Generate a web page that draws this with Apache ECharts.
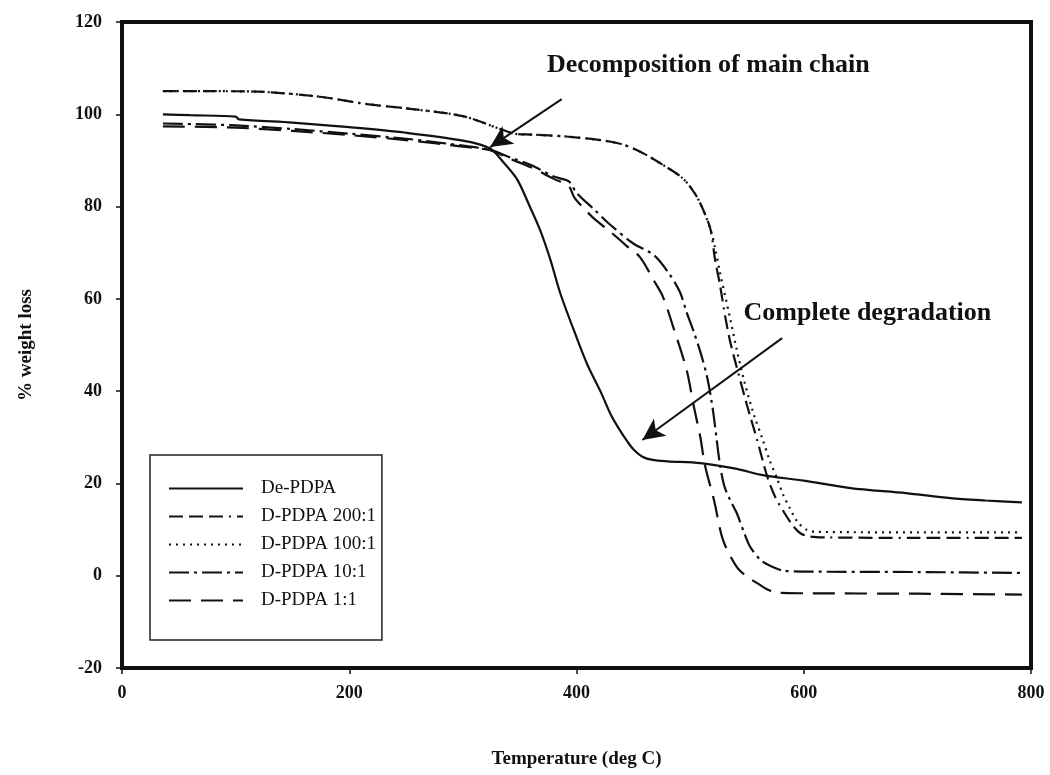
<!DOCTYPE html>
<html>
<head>
<meta charset="utf-8">
<script src="https://cdn.jsdelivr.net/npm/echarts@6/dist/echarts.min.js"></script>
<style>
  html, body { margin: 0; padding: 0; background: #fff; }
  #chart { width: 1050px; height: 775px; }
</style>
</head>
<body>
<div id="chart"></div>
<script>
// TGA curves: temperature (deg C) vs % weight loss
const dePdpaT = [36, 60, 100, 103, 150, 200, 250, 300, 324, 336, 348, 358, 368, 377, 386, 400, 410, 421, 430, 438, 445, 450, 458, 467, 480, 509, 540, 564, 600, 641, 690, 729, 760, 792];
const dePdpaW = [100, 99.8, 99.5, 98.9, 98.2, 97.2, 96, 94.3, 92.6, 89.5, 85.8, 80.5, 74.9, 68.5, 61, 51.7, 45.5, 40, 35, 31.6, 29, 27.4, 25.8, 25.1, 24.8, 24.4, 23.2, 21.8, 20.6, 19, 17.9, 16.8, 16.3, 15.9];

const pdpa200T = [36, 80, 120, 174, 216, 260, 300, 333, 345, 360, 390, 421, 440, 456, 475, 494, 505, 512, 518, 522, 526, 531, 535, 541, 550, 559, 568, 575, 582, 590, 597, 605, 620, 700, 792];
const pdpa200W = [105, 105, 104.9, 103.8, 102.2, 101, 99.6, 96.8, 95.8, 95.6, 95.2, 94.4, 93.5, 91.9, 89.2, 86, 82.5, 79, 75, 68.4, 63.4, 56, 51, 45.2, 37, 29.4, 21.4, 17, 14, 11, 9.2, 8.5, 8.3, 8.2, 8.2];

const pdpa100T = [36, 80, 120, 174, 216, 260, 300, 333, 345, 360, 390, 421, 440, 456, 475, 494, 505, 512, 518, 522, 526, 535, 541, 548, 556, 564, 570, 576, 582, 588, 595, 603, 612, 700, 792];
const pdpa100W = [105, 105, 104.9, 103.8, 102.2, 101, 99.6, 96.8, 95.8, 95.6, 95.2, 94.4, 93.5, 91.9, 89.2, 86, 82.5, 79, 75, 71, 66, 56, 49, 41.8, 35, 29.4, 25, 21.4, 17.5, 14.5, 11.5, 9.9, 9.5, 9.4, 9.4];

const pdpa10T = [36, 100, 150, 200, 250, 300, 324, 340, 360, 380, 393, 400, 415, 430, 450, 468, 480, 491, 497, 503, 509, 515, 520, 526, 530, 535, 541, 548, 553, 562, 570, 582, 600, 700, 792];
const pdpa10W = [98, 97.6, 96.8, 95.8, 94.7, 93.2, 92.3, 90.8, 89, 86.5, 85.5, 83, 79.5, 76, 72, 69.5, 66, 61.5, 57, 53, 48.5, 43, 36, 24.5, 19.5, 16.5, 13.6, 9, 6.2, 3.4, 2.2, 1.1, 0.9, 0.8, 0.6];

const pdpa1T = [36, 100, 150, 200, 250, 300, 324, 340, 360, 380, 393, 398, 405, 415, 430, 444, 456, 468, 476, 485, 497, 503, 509, 513, 521, 529, 541, 550, 559, 568, 577, 600, 700, 792];
const pdpa1W = [97.4, 97.1, 96.4, 95.5, 94.4, 93, 92.2, 90.5, 88.5, 86, 84.5, 82, 80, 77.5, 74.5, 71.5, 69, 64, 60.5, 54, 44.5, 37, 30, 24, 16.4, 7.7, 1.9, -0.2, -1.6, -3, -3.7, -3.8, -3.9, -4.1];

const seriesNames = ['De-PDPA', 'D-PDPA 200:1', 'D-PDPA 100:1', 'D-PDPA 10:1', 'D-PDPA 1:1'];
const xTicks = { min: 0, max: 800, interval: 200 };
const yTicks = { min: -20, max: 120, interval: 20 };

const serif = "'Liberation Serif', 'Times New Roman', serif";

function zip(t, w) { return t.map((x, i) => [x, w[i]]); }

const styles = [
  { type: 'solid', width: 2.2 },
  { type: [14, 6, 14, 6, 14, 6, 2, 6], width: 2.2 },
  { type: [2, 5], width: 2.2 },
  { type: [20, 5, 3, 5], width: 2.2 },
  { type: [22, 10], width: 2.2 }
];
const dataSets = [
  zip(dePdpaT, dePdpaW),
  zip(pdpa200T, pdpa200W),
  zip(pdpa100T, pdpa100W),
  zip(pdpa10T, pdpa10W),
  zip(pdpa1T, pdpa1W)
];

const series = seriesNames.map((name, i) => ({
  name: name,
  type: 'line',
  data: dataSets[i],
  showSymbol: false,
  symbol: 'none',
  smooth: 0.3,
  silent: true,
  lineStyle: { color: '#111', width: styles[i].width, type: styles[i].type, cap: 'butt' },
  itemStyle: { color: '#111' },
  z: 3
}));

// arrows and captions for the two stages
series[0].markLine = {
  silent: true,
  symbol: ['none', 'arrow'],
  symbolSize: [16, 22],
  label: { show: false },
  lineStyle: { color: '#111', width: 2, type: 'solid' },
  data: [
    [{ coord: [387, 103.3] }, { coord: [324, 92.9] }],
    [{ coord: [581, 51.5] }, { coord: [458, 29.4] }]
  ]
};
series[0].markPoint = {
  silent: true,
  symbol: 'circle',
  symbolSize: 0,
  label: {
    show: true,
    position: 'right',
    distance: 0,
    color: '#111',
    fontFamily: serif,
    fontWeight: 'bold',
    fontSize: 26,
    formatter: p => p.name
  },
  data: [
    { name: 'Decomposition of main chain', coord: [374, 110.7] },
    { name: 'Complete degradation', coord: [547, 56.9] }
  ]
};

const chart = echarts.init(document.getElementById('chart'), null, { renderer: 'canvas' });
chart.setOption({
  backgroundColor: '#fff',
  animation: false,
  grid: {
    left: 122, right: 19, top: 22, bottom: 107,
    show: true, borderColor: '#111', borderWidth: 4, backgroundColor: 'transparent'
  },
  legend: {
    data: seriesNames,
    orient: 'vertical',
    left: 150,
    top: 455,
    width: 232,
    padding: [24, 6, 30, 18],
    itemWidth: 74,
    itemHeight: 14,
    itemGap: 9,
    borderColor: '#222',
    borderWidth: 1.5,
    backgroundColor: '#fff',
    selectedMode: false,
    itemStyle: { opacity: 0 },
    textStyle: { color: '#111', fontFamily: serif, fontSize: 19, padding: [0, 0, 0, 13] }
  },
  xAxis: {
    type: 'value',
    min: xTicks.min, max: xTicks.max, interval: xTicks.interval,
    name: 'Temperature (deg C)',
    nameLocation: 'middle',
    nameGap: 82,
    nameTextStyle: { color: '#111', fontFamily: serif, fontWeight: 'bold', fontSize: 19 },
    axisLine: { show: true, onZero: false, lineStyle: { color: '#111', width: 3 } },
    axisTick: { show: true, length: 6, lineStyle: { color: '#111', width: 1.5 } },
    axisLabel: { color: '#111', fontFamily: serif, fontWeight: 'bold', fontSize: 18, margin: 16 },
    splitLine: { show: false }
  },
  yAxis: {
    type: 'value',
    min: yTicks.min, max: yTicks.max, interval: yTicks.interval,
    name: '% weight loss',
    nameLocation: 'middle',
    nameGap: 86,
    nameRotate: 90,
    nameTextStyle: { color: '#111', fontFamily: serif, fontWeight: 'bold', fontSize: 19 },
    axisLine: { show: true, onZero: false, lineStyle: { color: '#111', width: 3 } },
    axisTick: { show: true, length: 6, lineStyle: { color: '#111', width: 1.5 } },
    axisLabel: { color: '#111', fontFamily: serif, fontWeight: 'bold', fontSize: 18, margin: 20 },
    splitLine: { show: false }
  },
  series: series
});
</script>
</body>
</html>
